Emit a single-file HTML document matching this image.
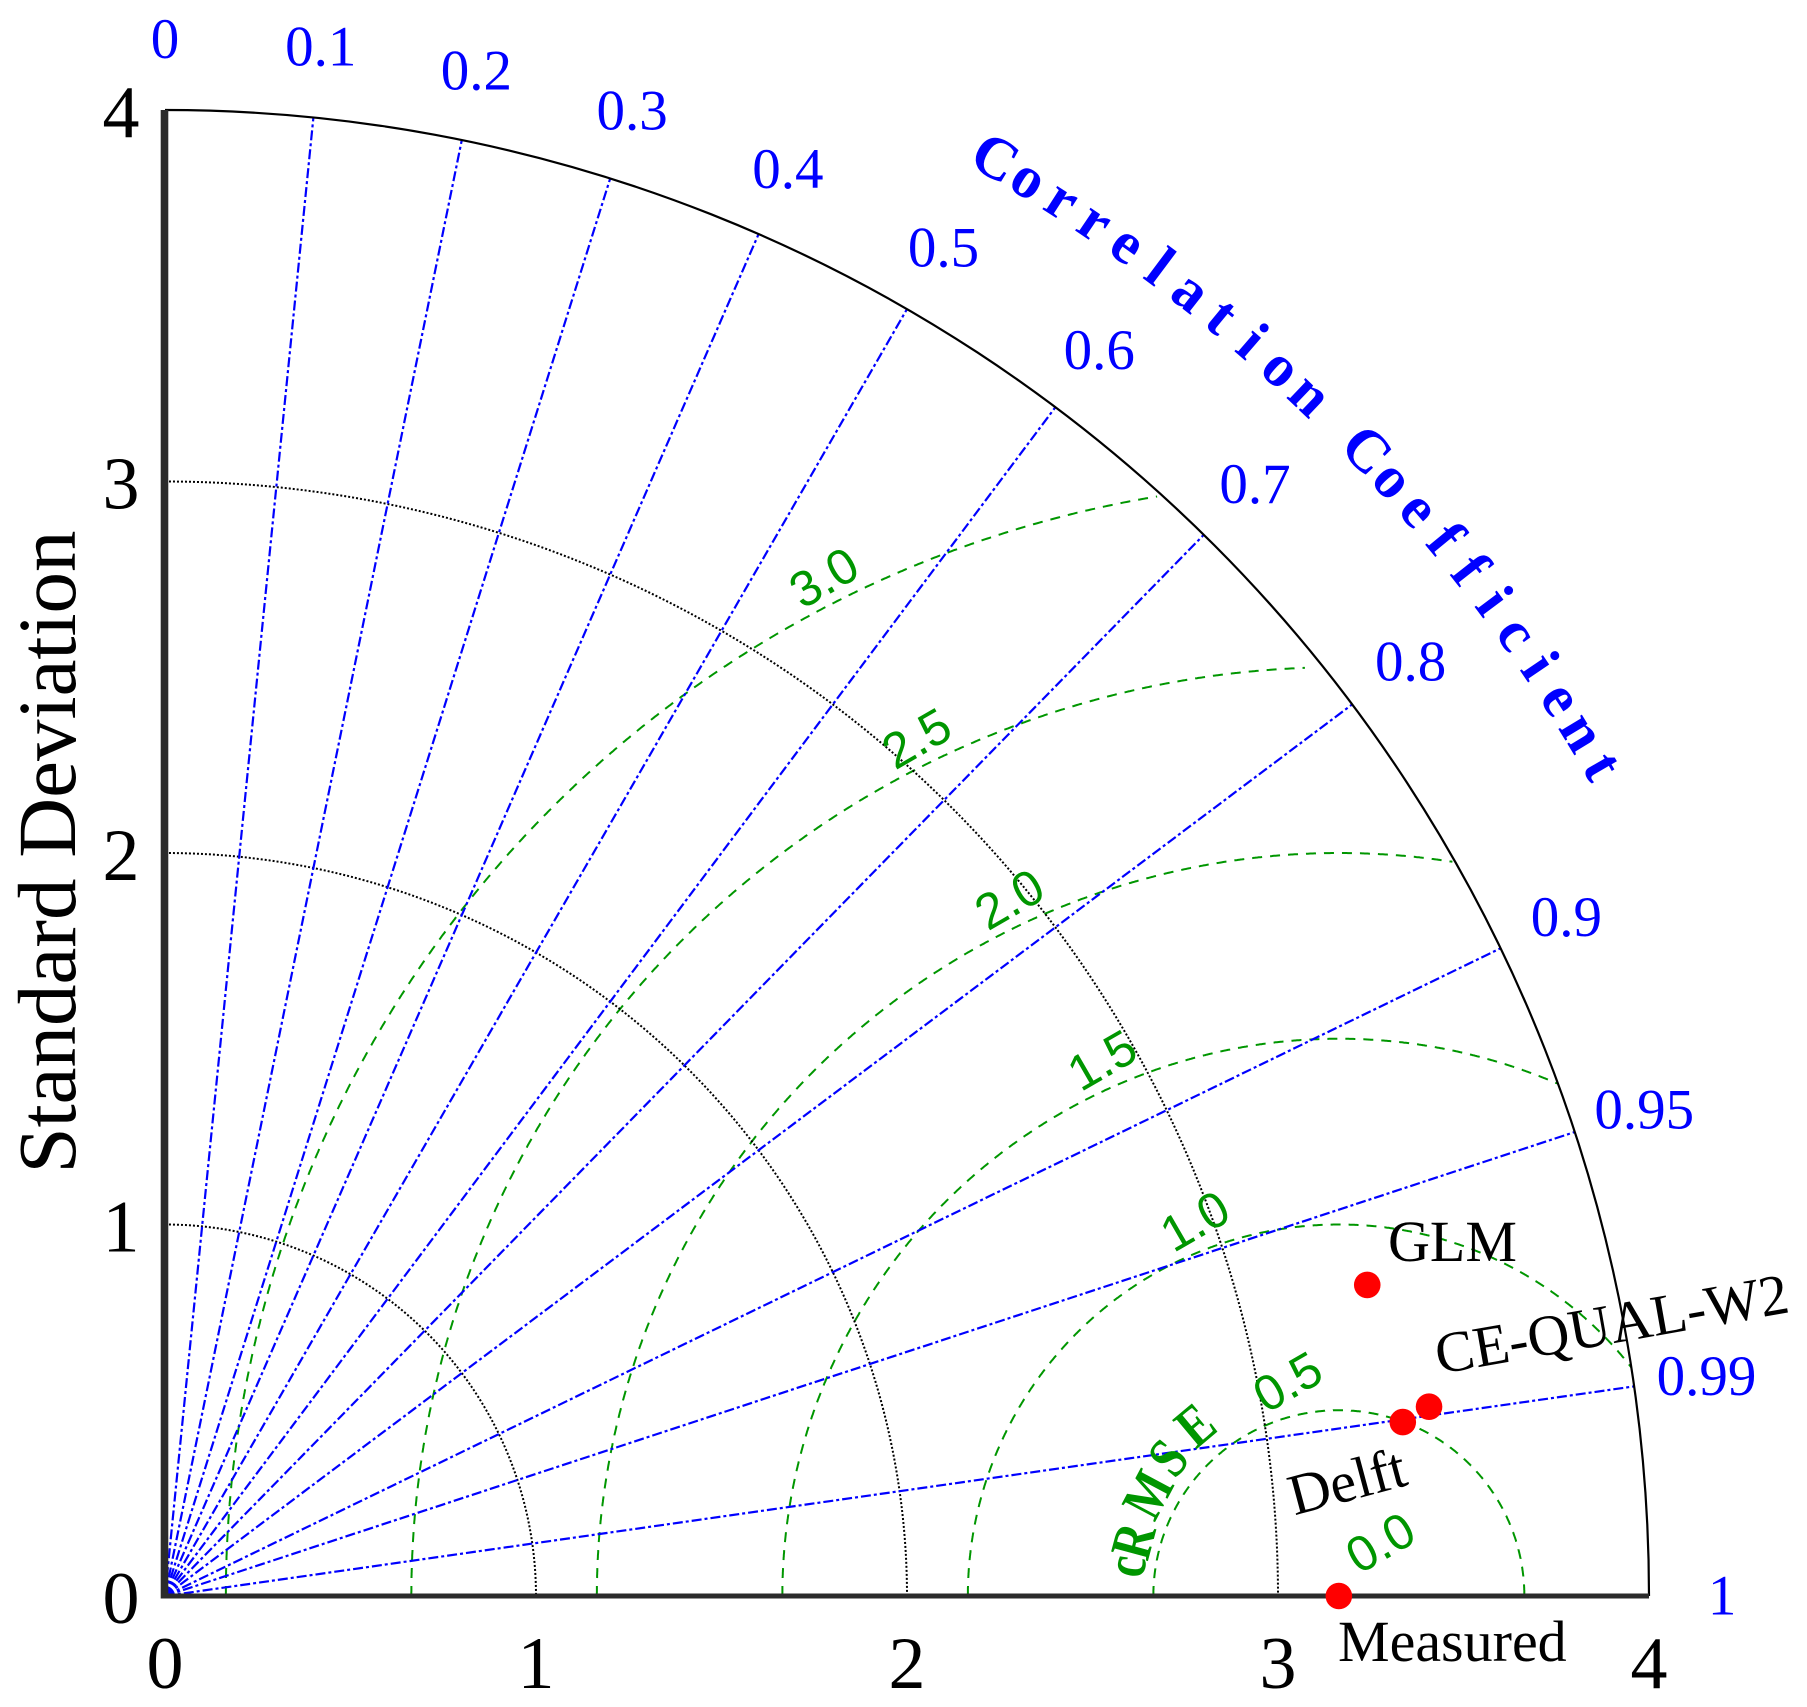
<!DOCTYPE html>
<html>
<head>
<meta charset="utf-8">
<title>Taylor Diagram</title>
<style>
html,body{margin:0;padding:0;background:#fff;}
svg{display:block;}
text{font-family:"Liberation Serif",serif;}
.std{font-size:74px;fill:#000;text-anchor:middle;}
.corr{font-size:57px;fill:#0000ff;text-anchor:middle;}
.rms{font-family:"Liberation Sans",sans-serif;font-size:50px;fill:#009600;text-anchor:middle;}
.model{font-size:58px;fill:#000;}
.ctitle{font-size:60px;font-weight:bold;fill:#0000ff;text-anchor:middle;}
.rtitle{font-size:58px;font-weight:bold;fill:#009600;text-anchor:middle;}
</style>
</head>
<body>
<svg id="chart" xmlns="http://www.w3.org/2000/svg" width="1807" height="1707" viewBox="0 0 1807 1707">
  <rect x="0" y="0" width="1807" height="1707" fill="#fff"/>
  <g id="rmsArcs"></g>
  <g id="stdArcs"></g>
  <g id="corrLines"></g>
  <path id="outerArc" fill="none" stroke="#000" stroke-width="2.2"/>
  <line id="yAxis" stroke="#2b2b2b" stroke-width="7.6"/>
  <line id="xAxis" stroke="#2b2b2b" stroke-width="5"/>
  <g id="stdLabels"></g>
  <g id="corrLabelsG"></g>
  <g id="rmsLabelsG"></g>
  <g id="corrTitle"></g>
  <g id="rmsTitle"></g>
  <text font-size="83" fill="#000" text-anchor="middle" transform="translate(75,852) rotate(-90)">Standard Deviation</text>
  <text class="model" x="1388" y="1261">GLM</text>
  <text class="model" text-anchor="middle" transform="translate(1615,1343) rotate(-10)">CE-QUAL-W2</text>
  <text class="model" text-anchor="middle" transform="translate(1352,1500) rotate(-15)">Delft</text>
  <text class="model" x="1338" y="1661">Measured</text>
  <g id="points"></g>
</svg>
<script>
var stdTicks = [0, 1, 2, 3, 4];
var corrTicks = [0, 0.1, 0.2, 0.3, 0.4, 0.5, 0.6, 0.7, 0.8, 0.9, 0.95, 0.99, 1];
var corrTickLabels = ['0', '0.1', '0.2', '0.3', '0.4', '0.5', '0.6', '0.7', '0.8', '0.9', '0.95', '0.99', '1'];
var rmsLevels = [0.5, 1.0, 1.5, 2.0, 2.5, 3.0];
var rmsEndStd = [4, 4, 4, 3.994, 3.96, 3.99];
var rmsTickLabels = ['0.0', '0.5', '1.0', '1.5', '2.0', '2.5', '3.0'];
var rmsTickValues = [0, 0.5, 1, 1.5, 2, 2.5, 3];
var modelNames = ['Measured', 'Delft', 'CE-QUAL-W2', 'GLM'];
var modelStd = [3.164, 3.369, 3.445, 3.347];
var modelCorr = [1, 0.9903, 0.989, 0.9682];
var refStd = 3.164;
var maxStd = 4;
var corrTitleText = 'Correlation Coefficient';
var rmsTitleLetters = ['c', 'R', 'M', 'S', 'E'];
var rmsTitleAngles = [172, 165, 152, 141, 130];

var NS = 'http://www.w3.org/2000/svg';
function sx(v) { return 165 + 371 * v; }
function sy(v) { return 1596 - 371.5 * v; }
function polarX(s, c) { return sx(s * c); }
function polarY(s, c) { return sy(s * Math.sqrt(Math.max(0, 1 - c * c))); }
function make(tag, parent, attrs, txt) {
  var el = document.createElementNS(NS, tag);
  for (var k in attrs) el.setAttribute(k, attrs[k]);
  if (txt !== undefined) el.textContent = txt;
  parent.appendChild(el);
  return el;
}
function byId(id) { return document.getElementById(id); }

/* frame */
byId('outerArc').setAttribute('d', 'M' + sx(0) + ' ' + sy(maxStd) + ' A' + (371 * maxStd) + ' ' + (371.5 * maxStd) + ' 0 0 1 ' + sx(maxStd) + ' ' + sy(0));
var ya = byId('yAxis');
ya.setAttribute('x1', 164.5); ya.setAttribute('x2', 164.5);
ya.setAttribute('y1', sy(maxStd)); ya.setAttribute('y2', sy(0) + 2.5);
var xa = byId('xAxis');
xa.setAttribute('x1', 161); xa.setAttribute('x2', sx(maxStd));
xa.setAttribute('y1', sy(0)); xa.setAttribute('y2', sy(0));

/* cRMSE arcs */
rmsLevels.forEach(function (r, i) {
  var pts = [];
  for (var a = 180; a >= 0; a -= 0.1) {
    var t = a * Math.PI / 180;
    var dx = refStd + r * Math.cos(t), dy = r * Math.sin(t);
    if (Math.sqrt(dx * dx + dy * dy) > rmsEndStd[i]) break;
    pts.push(sx(dx).toFixed(1) + ',' + sy(dy).toFixed(1));
  }
  var el = make('polyline', byId('rmsArcs'), {points: pts.join(' '), fill: 'none', stroke: '#009600', 'stroke-width': 2, 'stroke-dasharray': '10 8'});
  
  
});

/* std dev arcs */
stdTicks.forEach(function (s) {
  if (s > 0 && s < maxStd) {
    var el = make('path', byId('stdArcs'), {d: 'M' + sx(0) + ' ' + sy(s) + ' A' + (371 * s) + ' ' + (371.5 * s) + ' 0 0 1 ' + sx(s) + ' ' + sy(0), fill: 'none', stroke: '#000', 'stroke-width': 2, 'stroke-dasharray': '2 2'});
    
    
  }
  var xl = make('text', byId('stdLabels'), {'class': 'std', x: sx(s), y: 1688}, String(s));
  
  
  var yl = make('text', byId('stdLabels'), {'class': 'std', x: 121, y: sy(s) + 27}, String(s));
  
  
});

/* correlation rays and labels */
corrTicks.forEach(function (c, i) {
  if (c > 0 && c < 1) {
    var el = make('line', byId('corrLines'), {x1: sx(0), y1: sy(0), x2: polarX(maxStd, c), y2: polarY(maxStd, c), stroke: '#0000ff', 'stroke-width': 2.2, 'stroke-dasharray': '10 3 3 3'});
    
    
  }
  var lb = make('text', byId('corrLabelsG'), {'class': 'corr', x: polarX(4.197, c), y: polarY(4.19, c) + 18.5}, corrTickLabels[i]);
  
  
});

/* cRMSE labels */
rmsTickValues.forEach(function (v, i) {
  var cx = sx(3.275 - v * 0.5), cy = sy(0.1455 + v * 0.866);
  var lb = make('text', byId('rmsLabelsG'), {'class': 'rms', y: 18, transform: 'translate(' + cx + ',' + cy + ') rotate(-30)'}, rmsTickLabels[i]);
  
  
});

/* curved correlation title */
corrTitleText.split('').forEach(function (ch, i) {
  if (ch === ' ') return;
  var deg = 60 - i * 30 / (corrTitleText.length - 1);
  var t = deg * Math.PI / 180;
  var px = 165 + 1660 * Math.cos(t), py = 1596 - 1660 * Math.sin(t);
  var lb = make('text', byId('corrTitle'), {'class': 'ctitle', y: 19, transform: 'translate(' + px.toFixed(1) + ',' + py.toFixed(1) + ') rotate(' + (90 - deg).toFixed(2) + ')'}, ch);
  
  
});

/* curved cRMSE title */
rmsTitleLetters.forEach(function (ch, i) {
  var deg = rmsTitleAngles[i];
  var t = deg * Math.PI / 180;
  var rad = 209 + 3.5 * i;
  var px = sx(refStd) + rad * Math.cos(t), py = sy(0) - rad * Math.sin(t);
  var lb = make('text', byId('rmsTitle'), {'class': 'rtitle', y: ch === 'c' ? 13 : 19, transform: 'translate(' + px.toFixed(1) + ',' + py.toFixed(1) + ') rotate(' + (90 - deg) + ') scale(0.8,1)'}, ch);
  
  
});

/* points */
modelNames.forEach(function (n, i) {
  var el = make('circle', byId('points'), {cx: polarX(modelStd[i], modelCorr[i]), cy: polarY(modelStd[i], modelCorr[i]), r: 13.3, fill: '#ff0000'});
  
  
});
</script>
</body>
</html>
